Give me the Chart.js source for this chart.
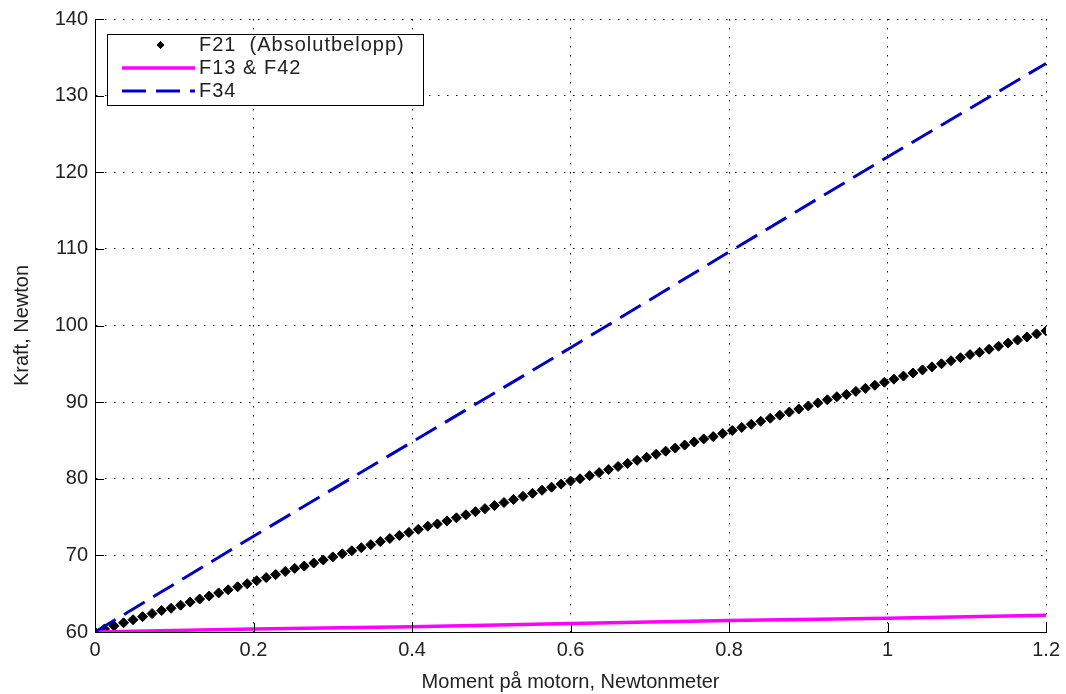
<!DOCTYPE html>
<html>
<head>
<meta charset="utf-8">
<script src="https://cdn.jsdelivr.net/npm/chart.js@4.4.1/dist/chart.umd.min.js"></script>
<style>
  html, body { margin: 0; padding: 0; background: #fff; }
  #wrap { width: 1066px; height: 694px; }
</style>
</head>
<body>
<div id="wrap"><canvas id="forceChart"></canvas></div>
<script>
// Moment values (x) for the F21 markers
const momentF21 = [
    0, 0.012, 0.024, 0.036, 0.048, 0.06, 0.072, 0.084, 0.096, 0.108,
    0.12, 0.132, 0.144, 0.156, 0.168, 0.18, 0.192, 0.204, 0.216, 0.228,
    0.24, 0.252, 0.264, 0.276, 0.288, 0.3, 0.312, 0.324, 0.336, 0.348,
    0.36, 0.372, 0.384, 0.396, 0.408, 0.42, 0.432, 0.444, 0.456, 0.468,
    0.48, 0.492, 0.504, 0.516, 0.528, 0.54, 0.552, 0.564, 0.576, 0.588,
    0.6, 0.612, 0.624, 0.636, 0.648, 0.66, 0.672, 0.684, 0.696, 0.708,
    0.72, 0.732, 0.744, 0.756, 0.768, 0.78, 0.792, 0.804, 0.816, 0.828,
    0.84, 0.852, 0.864, 0.876, 0.888, 0.9, 0.912, 0.924, 0.936, 0.948,
    0.96, 0.972, 0.984, 0.996, 1.008, 1.02, 1.032, 1.044, 1.056, 1.068,
    1.08, 1.092, 1.104, 1.116, 1.128, 1.14, 1.152, 1.164, 1.176, 1.188,
    1.2
];
const forceF21 = [
    60.0, 60.4, 60.8, 61.2, 61.6, 62.0, 62.4, 62.8, 63.1, 63.5,
    63.9, 64.3, 64.7, 65.1, 65.5, 65.9, 66.3, 66.7, 67.1, 67.5,
    67.9, 68.3, 68.6, 69.0, 69.4, 69.8, 70.2, 70.6, 71.0, 71.4,
    71.8, 72.2, 72.6, 73.0, 73.4, 73.8, 74.1, 74.5, 74.9, 75.3,
    75.7, 76.1, 76.5, 76.9, 77.3, 77.7, 78.1, 78.5, 78.9, 79.3,
    79.7, 80.0, 80.4, 80.8, 81.2, 81.6, 82.0, 82.4, 82.8, 83.2,
    83.6, 84.0, 84.4, 84.8, 85.2, 85.5, 85.9, 86.3, 86.7, 87.1,
    87.5, 87.9, 88.3, 88.7, 89.1, 89.5, 89.9, 90.3, 90.7, 91.0,
    91.4, 91.8, 92.2, 92.6, 93.0, 93.4, 93.8, 94.2, 94.6, 95.0,
    95.4, 95.8, 96.2, 96.5, 96.9, 97.3, 97.7, 98.1, 98.5, 98.9,
    99.3
];

// F13 & F42 and F34 are straight lines, read at every x tick
const momentLines = [0, 0.2, 0.4, 0.6, 0.8, 1.0, 1.2];
const forceF13 = [60, 60.4, 60.7, 61.1, 61.5, 61.8, 62.2];
const forceF34 = [60, 72.5, 84.8, 97.1, 109.6, 122.0, 134.2];

const seriesLabels = ['F21  (Absolutbelopp)', 'F13 & F42', 'F34'];
const xTicks = [0, 0.2, 0.4, 0.6, 0.8, 1, 1.2];
const yTicks = [60, 70, 80, 90, 100, 110, 120, 130, 140];
const xTitle = 'Moment på motorn, Newtonmeter';
const yTitle = 'Kraft, Newton';

const FONT = '"Liberation Sans", Arial, sans-serif';
const TEXT_COLOR = '#222';

function toPoints(xs, ys) {
    return xs.map((x, i) => ({ x: x, y: ys[i] }));
}

// inward tick marks (matlab style) + boxed legend
const matlabDecor = {
    id: 'matlabDecor',
    afterDraw(chart) {
        const ctx = chart.ctx;
        const area = chart.chartArea;
        const xs = chart.scales.x;
        const ys = chart.scales.y;

        ctx.save();
        ctx.strokeStyle = '#000';
        ctx.lineWidth = 1;
        ctx.beginPath();
        xTicks.forEach(v => {
            const px = Math.round(xs.getPixelForValue(v)) + 0.5;
            ctx.moveTo(px, area.bottom);
            ctx.lineTo(px, area.bottom - 9);
        });
        yTicks.forEach(v => {
            const py = Math.round(ys.getPixelForValue(v)) + 0.5;
            ctx.moveTo(area.left, py);
            ctx.lineTo(area.left + 9, py);
        });
        ctx.stroke();

        // legend box
        const bx = area.left + 12;
        const by = area.top + 15;
        const bw = 316;
        const bh = 71;
        ctx.fillStyle = '#fff';
        ctx.fillRect(bx, by, bw, bh);
        ctx.strokeStyle = '#000';
        ctx.strokeRect(bx + 0.5, by + 0.5, bw, bh);

        const rows = [by + 11, by + 34, by + 57];
        const sx0 = bx + 15;
        const sx1 = bx + 88;
        chart.data.datasets.forEach((ds, i) => {
            const ry = rows[i];
            if (ds.showLine === false) {
                ctx.fillStyle = ds.pointBackgroundColor;
                ctx.strokeStyle = ds.pointBorderColor;
                ctx.lineWidth = 1;
                ctx.beginPath();
                Chart.helpers.drawPoint(ctx, { pointStyle: 'rectRot', radius: 3.5, borderWidth: 1 }, (sx0 + sx1) / 2 + 2, ry);
                ctx.fill();
                ctx.stroke();
            } else {
                ctx.save();
                ctx.strokeStyle = ds.borderColor;
                ctx.lineWidth = ds.borderWidth;
                ctx.setLineDash(ds.borderDash || []);
                ctx.beginPath();
                ctx.moveTo(sx0, ry);
                ctx.lineTo(sx1, ry);
                ctx.stroke();
                ctx.restore();
            }
            ctx.save();
            ctx.fillStyle = TEXT_COLOR;
            ctx.font = '20px ' + FONT;
            ctx.letterSpacing = '1px';
            ctx.textBaseline = 'middle';
            ctx.textAlign = 'left';
            ctx.fillText(ds.label, sx1 + 4, ry);
            ctx.restore();
        });
        ctx.restore();
    }
};

const ctx = document.getElementById('forceChart').getContext('2d');

const forceChart = new Chart(ctx, {
    type: 'scatter',
    data: {
        datasets: [{
            label: seriesLabels[0],
            data: toPoints(momentF21, forceF21),
            showLine: false,
            pointStyle: 'rectRot',
            pointRadius: 5,
            pointBorderWidth: 1,
            pointBackgroundColor: '#000',
            pointBorderColor: '#000',
            order: 3
        }, {
            label: seriesLabels[1],
            data: toPoints(momentLines, forceF13),
            showLine: true,
            borderColor: '#ff00ff',
            borderWidth: 3.5,
            pointRadius: 0,
            order: 2
        }, {
            label: seriesLabels[2],
            data: toPoints(momentLines, forceF34),
            showLine: true,
            borderColor: '#0000cc',
            borderWidth: 3,
            borderDash: [24, 10],
            pointRadius: 0,
            order: 1
        }]
    },
    options: {
        responsive: true,
        maintainAspectRatio: false,
        animation: false,
        layout: {
            padding: { top: 18, right: 18, left: 0, bottom: 0 }
        },
        plugins: {
            legend: { display: false },
            tooltip: { enabled: false }
        },
        scales: {
            x: {
                type: 'linear',
                min: 0,
                max: 1.2,
                afterFit: scale => { scale.height = 62; },
                afterBuildTicks: scale => {
                    scale.ticks = xTicks.map(v => ({ value: v }));
                },
                ticks: {
                    padding: 6,
                    color: TEXT_COLOR,
                    font: { family: FONT, size: 20 },
                    maxRotation: 0,
                    callback: v => String(+v.toFixed(1))
                },
                grid: {
                    color: '#000',
                    lineWidth: 1,
                    drawTicks: false
                },
                border: {
                    color: '#000',
                    width: 1,
                    dash: [1.5, 7.5]
                },
                title: {
                    display: true,
                    text: xTitle,
                    color: TEXT_COLOR,
                    font: { family: FONT, size: 20 },
                    padding: { top: 0, bottom: 0 }
                }
            },
            y: {
                type: 'linear',
                min: 60,
                max: 140,
                afterFit: scale => { scale.width = 95; },
                afterBuildTicks: scale => {
                    scale.ticks = yTicks.map(v => ({ value: v }));
                },
                ticks: {
                    padding: 7,
                    color: TEXT_COLOR,
                    font: { family: FONT, size: 20 }
                },
                grid: {
                    color: '#000',
                    lineWidth: 1,
                    drawTicks: false
                },
                border: {
                    color: '#000',
                    width: 1,
                    dash: [1.5, 7.5]
                },
                title: {
                    display: true,
                    text: yTitle,
                    color: TEXT_COLOR,
                    font: { family: FONT, size: 20 },
                    padding: { top: 10, bottom: 0 }
                }
            }
        }
    },
    plugins: [matlabDecor]
});
</script>
</body>
</html>
